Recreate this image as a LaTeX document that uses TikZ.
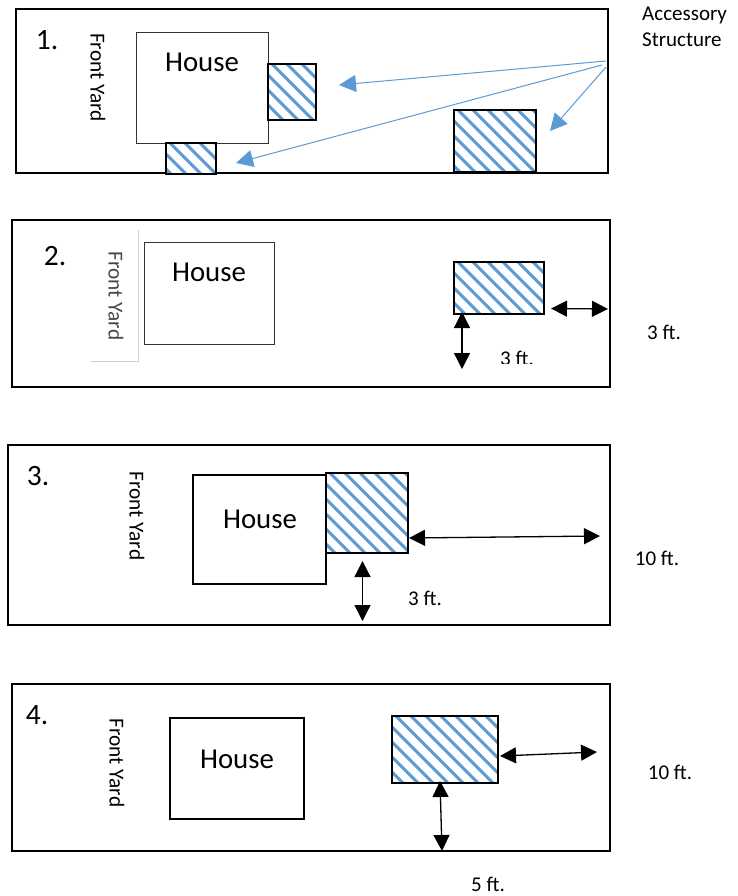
\documentclass[tikz,border=0pt]{standalone}
\usepackage{fontspec}
\setmainfont{Carlito}
\usetikzlibrary{arrows.meta}
\definecolor{hatchblue}{HTML}{5B9BD5}
\definecolor{softline}{HTML}{D0D0D0}
\tikzset{
  lot/.style={draw=black,line width=2pt,minimum width=#1,inner sep=0pt,outer sep=0pt},
  house/.style={draw=black!80,line width=1pt,fill=white,inner sep=0pt,outer sep=0pt},
  househeavy/.style={draw=black,line width=2pt,fill=white,inner sep=0pt,outer sep=0pt},
  hatchbox/.style={draw=black,line width=2.5pt,fill=white,inner sep=0pt,outer sep=0pt,
    path picture={
      \foreach \c in {-165,-150,...,135}{
        \draw[hatchblue,line width=2.9pt]
          ([xshift=\c pt,yshift=4pt]path picture bounding box.north west) -- ++(170,170);
      }
    }},
  numlabel/.style={font=\fontsize{29.5}{32}\selectfont,inner sep=0pt},
  houselabel/.style={font=\fontsize{28.8}{30}\selectfont,inner sep=0pt},
  yardlabel/.style={font=\fontsize{21.3}{24}\selectfont,rotate=-90,inner sep=0pt},
  note/.style={font=\fontsize{21}{26}\selectfont,inner sep=0pt},
  dim/.style={black,line width=1.3pt,{Triangle[length=16pt,width=16pt]}-{Triangle[length=16pt,width=16pt]}},
  leader/.style={hatchblue,line width=1pt,-{Triangle[length=17pt,width=17pt]}}
}
\begin{document}
\begin{tikzpicture}[x=1pt,y=-1pt]
\useasboundingbox (0,0) rectangle (738,896);
% Panel 1
\node[lot=592pt,minimum height=164pt] (lot1) at (312,91) {};
\node[house,minimum width=132pt,minimum height=111pt] (house1) at (202,88.5) {};
\node[hatchbox,minimum width=48pt,minimum height=56pt] (acc1a) at (292,92) {};
\node[hatchbox,minimum width=50pt,minimum height=31pt] (acc1b) at (191,158.5) {};
\node[hatchbox,minimum width=82pt,minimum height=62pt] (acc1c) at (495,141) {};
\node[numlabel] (n1) at (47,40) {1.};
\node[houselabel] (ht1) at (202,62) {House};
\node[yardlabel] (y1) at (98,77.5) {Front Yard};
\node[note,align=left,anchor=north west] (acc) at (642,7) {Accessory\\Structure};
\coordinate (s1) at (606,61);
\coordinate (s2) at (602,65);
\coordinate (s3) at (606,67);
\coordinate (t1) at (339,85);
\coordinate (t2) at (236,163);
\coordinate (t3) at (550,131);
\draw[leader] (s1) -- (t1);
\draw[leader] (s2) -- (t2);
\draw[leader] (s3) -- (t3);
% Panel 2
\node[lot=598pt,minimum height=167pt] (lot2) at (311,303.5) {};
\node[house,minimum width=130pt,minimum height=102pt] (house2) at (209,293) {};
\node[hatchbox,minimum width=90pt,minimum height=52pt] (acc2) at (499,288) {};
\node[numlabel] (n2) at (55,256) {2.};
\node[houselabel] (ht2) at (209,272) {House};
\node[yardlabel,text=black!72] (y2) at (116,296) {Front Yard};
\coordinate (yc1) at (138,230);
\coordinate (yc2) at (138,361);
\coordinate (yc3) at (91,361);
\draw[softline,line width=1pt] (yc1) -- (yc2) -- (yc3);
\coordinate (d2a) at (551,308.5);
\coordinate (d2b) at (608,309);
\coordinate (d2c) at (462,312);
\coordinate (d2d) at (462,369);
\draw[dim] (d2a) -- (d2b);
\draw[dim] (d2c) -- (d2d);
\begin{scope}
  \clip (480,340) rectangle (560,363.5);
  \node[note] (f2a) at (517,358) {3 ft.};
\end{scope}
\node[note] (f2b) at (664,332) {3 ft.};
% Panel 3
\node[lot=602pt,minimum height=180pt] (lot3) at (309,535) {};
\node[househeavy,minimum width=133pt,minimum height=109pt] (house3) at (259.5,529.5) {};
\node[hatchbox,minimum width=82pt,minimum height=80pt] (acc3) at (367,513) {};
\node[numlabel] (n3) at (38,476) {3.};
\node[houselabel] (ht3) at (260,519) {House};
\node[yardlabel] (y3) at (137,516) {Front Yard};
\coordinate (d3a) at (409,538);
\coordinate (d3b) at (600,536);
\coordinate (d3c) at (362.5,561);
\coordinate (d3d) at (362.5,621);
\draw[dim] (d3a) -- (d3b);
\draw[dim] (d3c) -- (d3d);
\node[note] (f3a) at (425,598) {3 ft.};
\node[note] (f3b) at (657,558) {10 ft.};
% Panel 4
\node[lot=598pt,minimum height=167pt] (lot4) at (311,767.5) {};
\node[househeavy,minimum width=134pt,minimum height=101pt] (house4) at (237,768.5) {};
\node[hatchbox,minimum width=106pt,minimum height=67pt] (acc4) at (445,749.5) {};
\node[numlabel] (n4) at (37,715) {4.};
\node[houselabel] (ht4) at (237,759) {House};
\node[yardlabel] (y4) at (117,763) {Front Yard};
\coordinate (d4a) at (500,756);
\coordinate (d4b) at (597,752);
\coordinate (d4c) at (440,781);
\coordinate (d4d) at (442,851);
\draw[dim] (d4a) -- (d4b);
\draw[dim] (d4c) -- (d4d);
\node[note] (f4a) at (670,772) {10 ft.};
\node[note] (f4b) at (488,884) {5 ft.};
\end{tikzpicture}
\end{document}
